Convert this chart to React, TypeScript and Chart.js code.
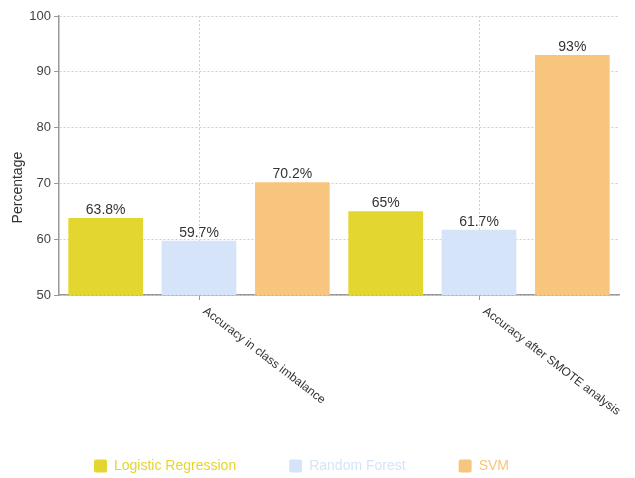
import React, { useEffect, useRef } from "react";
import { Chart, registerables } from "chart.js";

Chart.register(...registerables);

const categories = ["Accuracy in class imbalance", "Accuracy after SMOTE analysis"];
const seriesNames = ["Logistic Regression", "Random Forest", "SVM"];
const logisticRegression = [63.8, 65];
const randomForest = [59.7, 61.7];
const svm = [70.2, 93];
const seriesColors = ["#E3D62E", "#D6E4FA", "#F8C57E"];
const yMin = 50;
const yMax = 100;
const yStep = 10;
const yTitle = "Percentage";

const FONT = "'Liberation Sans', Arial, sans-serif";

const xLabelPlugin = {
  id: "xLabels",
  afterDraw(chart: any) {
    const ctx = chart.ctx;
    const xs = chart.scales.x;
    const area = chart.chartArea;
    ctx.save();
    ctx.font = `12px ${FONT}`;
    ctx.fillStyle = "#333";
    ctx.textAlign = "left";
    ctx.textBaseline = "top";
    categories.forEach((c, i) => {
      const x = xs.getPixelForValue(i);
      ctx.save();
      ctx.translate(x + 9, area.bottom + 10);
      ctx.rotate((37.5 * Math.PI) / 180);
      ctx.fillText(c, 0, 0);
      ctx.restore();
    });
    // y title
    ctx.save();
    ctx.font = `14px ${FONT}`;
    ctx.fillStyle = "#333";
    ctx.textAlign = "center";
    ctx.textBaseline = "middle";
    ctx.translate(18, area.top + (area.bottom - area.top) * 0.615);
    ctx.rotate(-Math.PI / 2);
    ctx.fillText(yTitle, 0, 0);
    ctx.restore();
    ctx.restore();
  },
};

const valueLabelPlugin = {
  id: "valueLabels",
  afterDatasetsDraw(chart: any) {
    const ctx = chart.ctx;
    ctx.save();
    ctx.font = `14px ${FONT}`;
    ctx.fillStyle = "#333";
    ctx.textAlign = "center";
    ctx.textBaseline = "alphabetic";
    chart.data.datasets.forEach((ds: any, di: number) => {
      const meta = chart.getDatasetMeta(di);
      meta.data.forEach((bar: any, i: number) => {
        ctx.fillText(`${ds.data[i]}%`, bar.x, bar.y - 4);
      });
    });
    ctx.restore();
  },
};

const legendShiftPlugin = {
  id: "legendShift",
  afterLayout(chart: any) {
    const lg = chart.legend;
    if (!lg) return;
    const dx = -8;
    const dy = 5;
    lg.left += dx;
    lg.right += dx;
    lg.top += dy;
    lg.bottom += dy;
  },
};

export default function App() {
  const ref = useRef<HTMLCanvasElement | null>(null);
  useEffect(() => {
    if (!ref.current) return;
    const chart = new Chart(ref.current, {
      type: "bar",
      data: {
        labels: categories,
        datasets: [
          { label: seriesNames[0], data: logisticRegression, backgroundColor: seriesColors[0], borderWidth: 0 },
          { label: seriesNames[1], data: randomForest, backgroundColor: seriesColors[1], borderWidth: 0 },
          { label: seriesNames[2], data: svm, backgroundColor: seriesColors[2], borderWidth: 0 },
        ],
      },
      options: {
        animation: false,
        responsive: true,
        maintainAspectRatio: false,
        layout: { padding: { top: 16, right: 16, left: 0, bottom: 0 } },
        datasets: { bar: { barPercentage: 0.8, categoryPercentage: 1.0 } },
        plugins: {
          tooltip: { enabled: false },
          legend: {
            position: "bottom",
            labels: {
              boxWidth: 13,
              boxHeight: 13,
              padding: 53,
              useBorderRadius: true,
              borderRadius: 2,
              font: { size: 14, family: FONT },
              generateLabels: (chart: any) =>
                Chart.defaults.plugins.legend.labels
                  .generateLabels(chart)
                  .map((l: any) => ({ ...l, fontColor: l.fillStyle, lineWidth: 0 })),
            },
          },
        },
        scales: {
          x: {
            grid: {
              offset: false,
              color: "#cfcfcf",
              tickColor: "#999",
              tickLength: 5,
              drawTicks: true,
              lineWidth: 1,
              tickBorderDash: [],
            },
            border: { color: "#999", width: 1.5, dash: [2, 2] },
            ticks: { display: false },
            afterFit: (s: any) => {
              s.height = 106;
            },
          },
          y: {
            min: yMin,
            max: yMax,
            ticks: {
              stepSize: yStep,
              color: "#444",
              padding: 3,
              font: { size: 13, family: FONT },
            },
            grid: {
              color: "#cfcfcf",
              tickColor: "#999",
              tickLength: 5,
              tickBorderDash: [],
            },
            border: { color: "#999", width: 1.5, dash: [2, 2] },
            afterFit: (s: any) => {
              s.width = 59;
            },
          },
        },
      },
      plugins: [xLabelPlugin, valueLabelPlugin, legendShiftPlugin],
    });
    return () => chart.destroy();
  }, []);
  return (
    <div style={{ position: "absolute", left: 0, top: 0, width: 635, height: 478, background: "#fff" }}>
      <canvas ref={ref} />
    </div>
  );
}
